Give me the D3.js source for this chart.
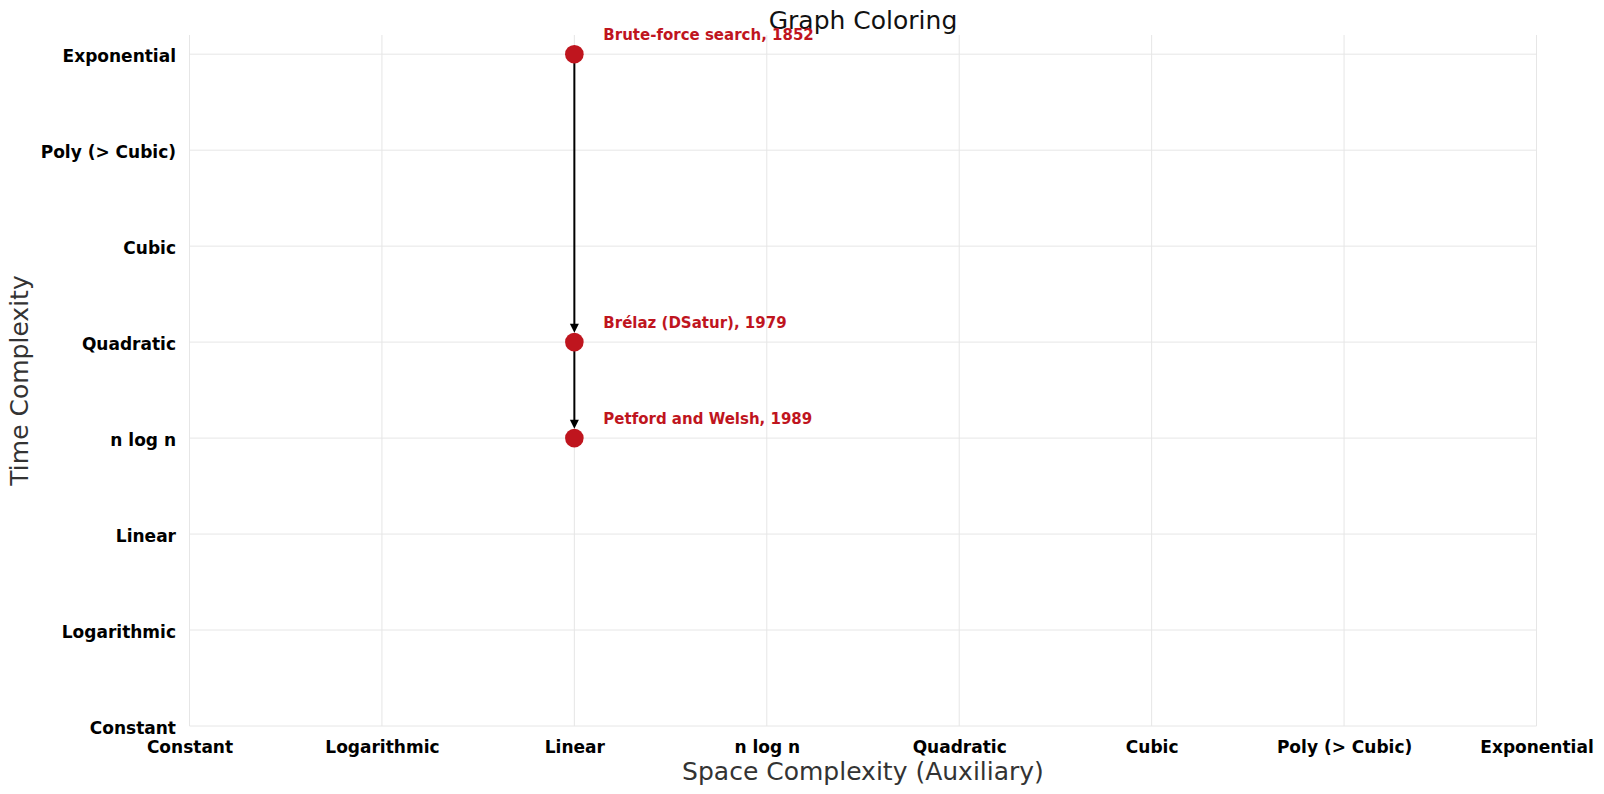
<!DOCTYPE html>
<html>
<head>
<meta charset="utf-8">
<script src="https://cdn.jsdelivr.net/npm/d3@7"></script>
<style>
  html, body { margin: 0; padding: 0; background: #fff; }
  svg { display: block; font-family: "DejaVu Sans", sans-serif; }
</style>
</head>
<body>
<svg id="chart" width="1604" height="794"></svg>
<script>
// ---- data ----
const categories = ["Constant", "Logarithmic", "Linear", "n log n", "Quadratic", "Cubic", "Poly (> Cubic)", "Exponential"];
const algorithms = ["Brute-force search, 1852", "Brélaz (DSatur), 1979", "Petford and Welsh, 1989"];
const timeIndex = [7, 4, 3];
const spaceIndex = [2, 2, 2];
const improvements = [[0, 1], [1, 2]];
const chartTitle = "Graph Coloring";
const xTitle = "Space Complexity (Auxiliary)";
const yTitle = "Time Complexity";

(function () {
// ---- layout ----
const plotLeft = 189.5, plotRight = 1536.5, plotTop = 35, plotBottom = 726;
const svg = d3.select("#chart");

const x = d3.scaleLinear().domain([0, 7]).range([plotLeft, plotRight]);
const y = d3.scaleLinear().domain([0, 7.2]).range([plotBottom, plotTop]);

const gridColor = "#e6e6e6";
const red = "#bf151e";

// grid
svg.append("g").selectAll("line").data(d3.range(categories.length)).join("line")
  .attr("x1", d => x(d)).attr("x2", d => x(d))
  .attr("y1", plotTop).attr("y2", plotBottom)
  .attr("stroke", gridColor).attr("stroke-width", 1);
svg.append("g").selectAll("line").data(d3.range(categories.length)).join("line")
  .attr("x1", plotLeft).attr("x2", plotRight)
  .attr("y1", d => y(d)).attr("y2", d => y(d))
  .attr("stroke", gridColor).attr("stroke-width", 1);

// axes (labels only)
const xAxis = d3.axisBottom(x).tickValues(d3.range(categories.length))
  .tickFormat(i => categories[i]).tickSize(0).tickPadding(0);
const gx = svg.append("g").attr("transform", `translate(0,${plotBottom})`).call(xAxis);
gx.select(".domain").remove();
gx.selectAll("text").attr("dy", null).attr("y", 27)
  .attr("font-family", "DejaVu Sans").attr("font-size", 17).attr("font-weight", "bold").attr("fill", "#000");

const yAxis = d3.axisLeft(y).tickValues(d3.range(categories.length))
  .tickFormat(i => categories[i]).tickSize(0).tickPadding(0);
const gy = svg.append("g").attr("transform", `translate(${plotLeft},0)`).call(yAxis);
gy.select(".domain").remove();
gy.selectAll("text").attr("x", -13.5).attr("dy", "0.45em")
  .attr("font-family", "DejaVu Sans").attr("font-size", 17).attr("font-weight", "bold").attr("fill", "#000");

// titles
svg.append("text").attr("x", (plotLeft + plotRight) / 2).attr("y", 28.5)
  .attr("text-anchor", "middle").attr("font-size", 25).attr("fill", "#111").text(chartTitle);
svg.append("text").attr("x", (plotLeft + plotRight) / 2).attr("y", 780)
  .attr("text-anchor", "middle").attr("font-size", 25).attr("fill", "#333").text(xTitle);
svg.append("text").attr("transform", `translate(27.5,${(plotTop + plotBottom) / 2}) rotate(-90)`)
  .attr("text-anchor", "middle").attr("font-size", 25).attr("fill", "#333").text(yTitle);

// arrows
const r = 9.3;
const arrowLen = 9, arrowHalf = 4.5;
const ag = svg.append("g");
improvements.forEach(([a, b]) => {
  const x1 = x(spaceIndex[a]), y1 = y(timeIndex[a]);
  const x2 = x(spaceIndex[b]), y2 = y(timeIndex[b]);
  const dx = x2 - x1, dy = y2 - y1, len = Math.hypot(dx, dy);
  const ux = dx / len, uy = dy / len;
  const tipX = x2 - ux * r, tipY = y2 - uy * r;
  const baseX = tipX - ux * arrowLen, baseY = tipY - uy * arrowLen;
  ag.append("line")
    .attr("x1", x1 + ux * r * 0.5).attr("y1", y1 + uy * r * 0.5)
    .attr("x2", baseX + ux * 1).attr("y2", baseY + uy * 1)
    .attr("stroke", "#000").attr("stroke-width", 2);
  ag.append("path")
    .attr("d", `M${tipX},${tipY}L${baseX - uy * arrowHalf},${baseY + ux * arrowHalf}L${baseX + uy * arrowHalf},${baseY - ux * arrowHalf}Z`)
    .attr("fill", "#000");
});

// points
svg.append("g").selectAll("circle").data(algorithms).join("circle")
  .attr("cx", (d, i) => x(spaceIndex[i])).attr("cy", (d, i) => y(timeIndex[i]))
  .attr("r", r).attr("fill", red);

// labels
svg.append("g").selectAll("text").data(algorithms).join("text")
  .attr("x", (d, i) => x(spaceIndex[i]) + 29).attr("y", (d, i) => y(timeIndex[i]) - 14)
  .attr("font-size", 15).attr("font-weight", "bold").attr("fill", red).text(d => d);
})();
</script>
</body>
</html>
